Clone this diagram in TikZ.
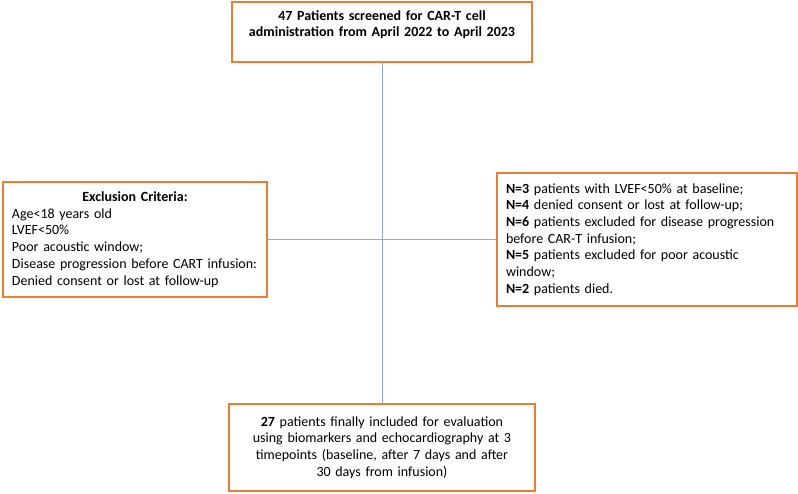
\documentclass[tikz,border=0pt]{standalone}
\usepackage{fontspec}
\setmainfont{Carlito}
\usetikzlibrary{positioning}
\definecolor{boxorange}{HTML}{ED7D31}
\definecolor{linkblue}{HTML}{8EAADB}
\tikzset{
  stage/.style={
      rectangle,
      inner xsep=9pt,
      inner ysep=4pt,
      line width=1.6pt,
      draw=boxorange,
      fill=white,
      font=\fontsize{14}{16.7}\selectfont
  },
  link/.style={
      draw=linkblue,
      line width=0.8pt
  }
}
\begin{document}
\begin{tikzpicture}[x=1pt,y=-1pt]
    \useasboundingbox (0,0) rectangle (798,493);
    \node[stage,align=center,text width=282pt,minimum height=60pt] (screened) at (382,32)
      {\textbf{47 Patients screened for CAR-T cell\\administration from April 2022 to April 2023}\\\mbox{}};
    \node[stage,align=left,text width=246pt,minimum height=115pt] (criteria) at (135,239.5)
      {\makebox[\hsize][c]{\textbf{Exclusion Criteria:}}\\
       Age<18 years old\\
       LVEF<50\%\\
       Poor acoustic window;\\
       Disease progression before CART infusion:\\
       Denied consent or lost at follow-up};
    \node[stage,align=left,text width=282pt,minimum height=133pt] (excluded) at (647,239.5)
      {\textbf{N=3} patients with LVEF<50\% at baseline;\\
       \textbf{N=4} denied consent or lost at follow-up;\\
       \textbf{N=6} patients excluded for disease progression\\
       before CAR-T infusion;\\
       \textbf{N=5} patients excluded for poor acoustic\\
       window;\\
       \textbf{N=2} patients died.};
    \node[stage,align=center,text width=288pt,minimum height=87pt] (included) at (382,447.5)
      {\textbf{27} patients finally included for evaluation\\
       using biomarkers and echocardiography at 3\\
       timepoints (baseline, after 7 days and after\\
       30 days from infusion)};
    \draw[link] (screened) -- (included);
    \draw[link] (criteria) -- (excluded);
\end{tikzpicture}
\end{document}
